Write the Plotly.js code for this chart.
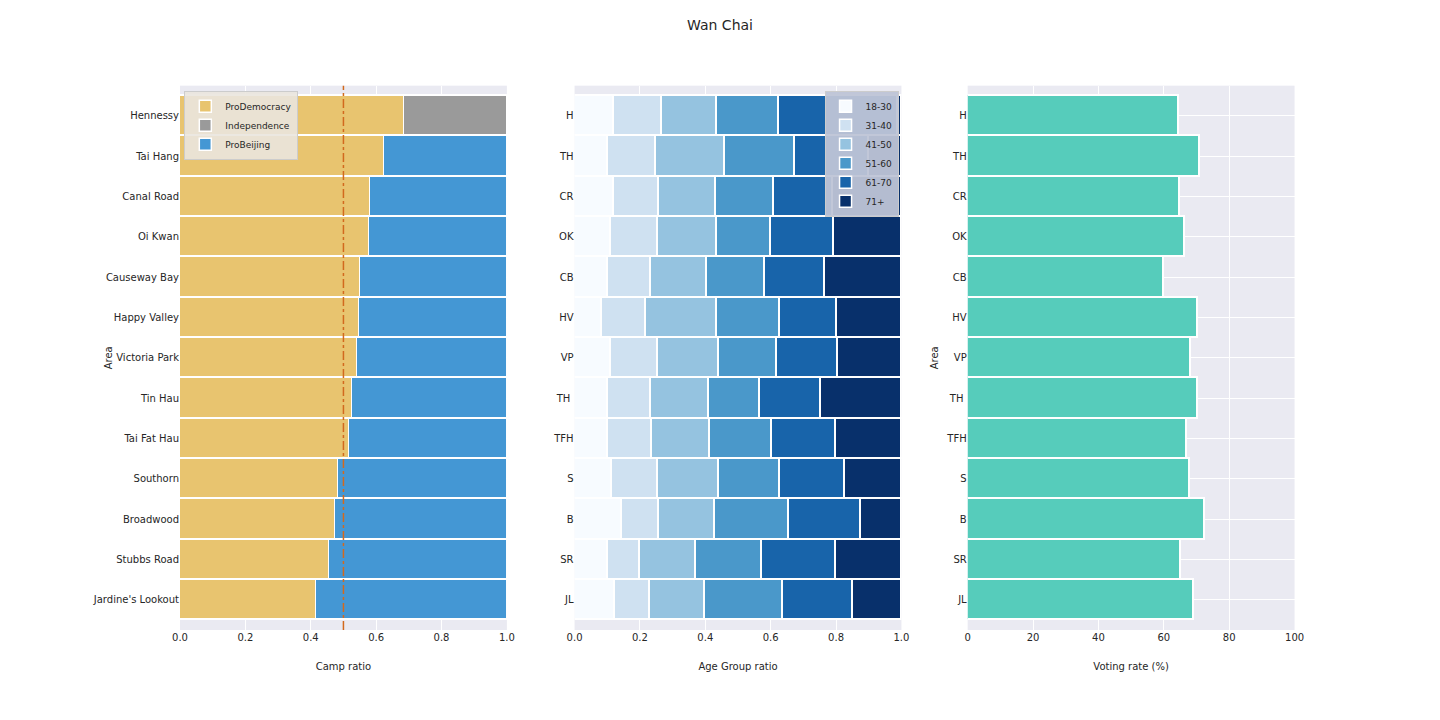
<!DOCTYPE html>
<html><head><script src="https://cdn.plot.ly/plotly-3.0.1.min.js"></script></head>
<body style="margin:0"><div id="c" style="width:1440px;height:720px"></div>
<script>
const areas=["Hennessy","Tai Hang","Canal Road","Oi Kwan","Causeway Bay","Happy Valley","Victoria Park","Tin Hau","Tai Fat Hau","Southorn","Broadwood","Stubbs Road","Jardine's Lookout"];
const abbr=["H","TH","CR","OK","CB","HV","VP","TH ","TFH","S","B","SR","JL"];
const proDem=[0.685,0.624,0.581,0.578,0.550,0.547,0.541,0.526,0.517,0.483,0.474,0.456,0.416];
const indep=[0.315,0,0,0,0,0,0,0,0,0,0,0,0];
const proBj=[0,0.376,0.419,0.422,0.450,0.453,0.459,0.474,0.483,0.517,0.526,0.544,0.584];
const ageGroups=["18-30","31-40","41-50","51-60","61-70","71+"];
const ageCum=[
[0.119,0.266,0.434,0.624,0.988],
[0.101,0.248,0.459,0.673,0.900],
[0.119,0.257,0.431,0.609,0.789],
[0.110,0.254,0.434,0.599,0.792],
[0.101,0.232,0.404,0.581,0.765],
[0.083,0.217,0.434,0.627,0.801],
[0.110,0.254,0.440,0.618,0.804],
[0.101,0.232,0.410,0.566,0.752],
[0.101,0.235,0.413,0.602,0.798],
[0.113,0.254,0.440,0.627,0.826],
[0.144,0.257,0.428,0.654,0.875],
[0.101,0.199,0.370,0.572,0.798],
[0.122,0.229,0.398,0.636,0.850]];
const votingRate=[64.5,71,65,66.4,60,70.3,68.2,70.3,67,67.9,72.5,65.1,69.1];
const blues=["#F7FBFF","#CFE1F1","#95C3E0","#4A98CA","#1864AA","#08306B"];
const line={color:"white",width:1.5};
const traces=[];
const mk=(name,x,color)=>({type:"bar",orientation:"h",name,x,y:areas,marker:{color,line},xaxis:"x",yaxis:"y",legend:"legend"});
traces.push(mk("ProDemocracy",proDem,"#E8C46F"));
traces.push(mk("Independence",indep,"#9A9A9A"));
traces.push(mk("ProBeijing",proBj,"#4497D4"));
for(let g=0;g<6;g++){
  const w=ageCum.map(r=>{const c=[0,...r,1];return +(c[g+1]-c[g]).toFixed(3);});
  traces.push({type:"bar",orientation:"h",name:ageGroups[g],x:w,y:abbr,marker:{color:blues[g],line},xaxis:"x2",yaxis:"y2",legend:"legend2"});
}
traces.push({type:"bar",orientation:"h",x:votingRate,y:abbr,marker:{color:"#56CCBB",line},xaxis:"x3",yaxis:"y3",showlegend:false});
const f={family:"DejaVu Sans, Arial",size:10,color:"#262626"};
const ax=(d,title,dt,range)=>({domain:d,range,dtick:dt,gridcolor:"white",zeroline:false,showline:false,ticks:"",title:{text:title,font:f},tickfont:f,tickformat:dt===20?"d":".1f"});
const yx=(d,arr,title)=>({domain:[0.125,0.881],categoryarray:arr,categoryorder:"array",range:[12.75,-0.75],gridcolor:"white",ticks:"",tickfont:f,title:{text:title,font:f},zeroline:false});
const layout={barmode:"stack",bargap:0,plot_bgcolor:"#EAEAF2",paper_bgcolor:"white",font:f,
margin:{l:0,r:0,t:0,b:0},
title:{text:"Wan Chai",x:0.5,y:0.972,font:{family:"DejaVu Sans, Arial",size:14,color:"#262626"}},
xaxis:ax([0.125,0.352],"Camp ratio",0.2,[0,1]),
xaxis2:Object.assign(ax([0.399,0.626],"Age Group ratio",0.2,[0,1]),{anchor:"y2"}),
xaxis3:Object.assign(ax([0.672,0.899],"Voting rate (%)",20,[0,100]),{anchor:"y3"}),
yaxis:Object.assign(yx(null,areas,"Area"),{anchor:"x"}),
yaxis2:Object.assign(yx(null,abbr,""),{anchor:"x2"}),
yaxis3:Object.assign(yx(null,abbr,"Area"),{anchor:"x3"}),
legend:{x:0.128,y:0.874,xanchor:"left",yanchor:"top",bgcolor:"rgba(234,230,222,0.9)",bordercolor:"#cccccc",borderwidth:1,font:{family:"DejaVu Sans, Arial",size:9,color:"#262626"},tracegroupgap:0,itemheight:14,traceorder:"normal"},
legend2:{x:0.624,y:0.874,xanchor:"right",yanchor:"top",bgcolor:"rgba(190,196,214,0.95)",bordercolor:"#cccccc",borderwidth:1,font:{family:"DejaVu Sans, Arial",size:9,color:"#262626"},itemheight:12,traceorder:"normal"},
shapes:[{type:"line",xref:"x",yref:"y domain",x0:0.5,x1:0.5,y0:0,y1:1,line:{color:"#D2691E",width:1.5,dash:"dashdot"}}]
};
Plotly.newPlot("c",traces,layout,{displayModeBar:false});
</script></body></html>
